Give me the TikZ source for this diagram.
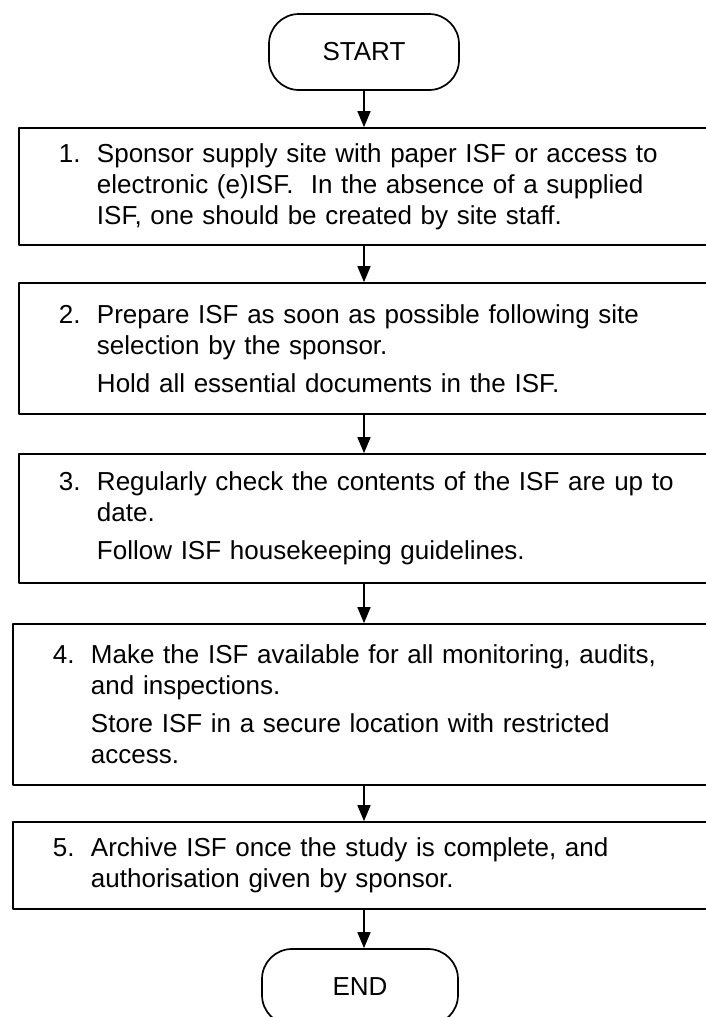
\documentclass[tikz,border=0pt]{standalone}
\usepackage{fontspec}
\setmainfont{Liberation Sans}
\usetikzlibrary{arrows.meta}

% number in front, text hung beside it
\newcommand{\stepitem}[2]{\makebox[38bp][l]{#1}\parbox[t]{\dimexpr\hsize-18bp\relax}{\raggedright #2}}

\begin{document}
\begin{tikzpicture}[line cap=round,line join=round,x=1bp,y=-1bp,
	every node/.style={font=\fontsize{26bp}{31bp}\selectfont},
	terminal/.style={draw,line width=1.7bp,rounded corners=30bp,minimum width=190bp,minimum height=76bp,inner sep=0pt},
	stepbox/.style={draw,line width=1.7bp,inner xsep=40bp,inner ysep=0pt,align=left},
	flow/.style={line width=1.6bp,-{Triangle[width=13bp,length=16bp]}}]
		\useasboundingbox (0,0) rectangle (706,1017);
		\clip (0,0) rectangle (706,1017);
		\node[terminal] (start) at (364,52) {START};
		\node[stepbox,text width=610bp,minimum height=117bp] (s1) at (364,186.5) {\stepitem{1.}{Sponsor supply site with paper ISF or access to\\ electronic (e)ISF.\ \ In the absence of a supplied\\ ISF, one should be created by site staff.}};
		\node[stepbox,text width=610bp,minimum height=131bp] (s2) at (364,348.5) {\stepitem{2.}{Prepare ISF as soon as possible following site\\ selection by the sponsor.\par\vspace{7bp}Hold all essential documents in the ISF.}};
		\node[stepbox,text width=610bp,minimum height=129bp] (s3) at (364,518.5) {\stepitem{3.}{Regularly check the contents of the ISF are up to\\ date.\par\vspace{7bp}Follow ISF housekeeping guidelines.}};
		\node[stepbox,text width=622bp,minimum height=161bp] (s4) at (364,704.5) {\stepitem{4.}{Make the ISF available for all monitoring, audits,\\ and inspections.\par\vspace{7bp}Store ISF in a secure location with restricted\\ access.}};
		\node[stepbox,text width=622bp,minimum height=87bp] (s5) at (364,865.5) {\stepitem{5.}{Archive ISF once the study is complete, and\\ authorisation given by sponsor.}};
		\node[terminal,minimum width=196bp] (end) at (360,987) {END};
		\draw[flow] (start.south) -- (s1.north);
		\draw[flow] (s1.south) -- (s2.north);
		\draw[flow] (s2.south) -- (s3.north);
		\draw[flow] (s3.south) -- (s4.north);
		\draw[flow] (s4.south) -- (s5.north);
		\draw[flow] (s5.south) -- (s5.south |- end.north);
	\end{tikzpicture}
\end{document}
